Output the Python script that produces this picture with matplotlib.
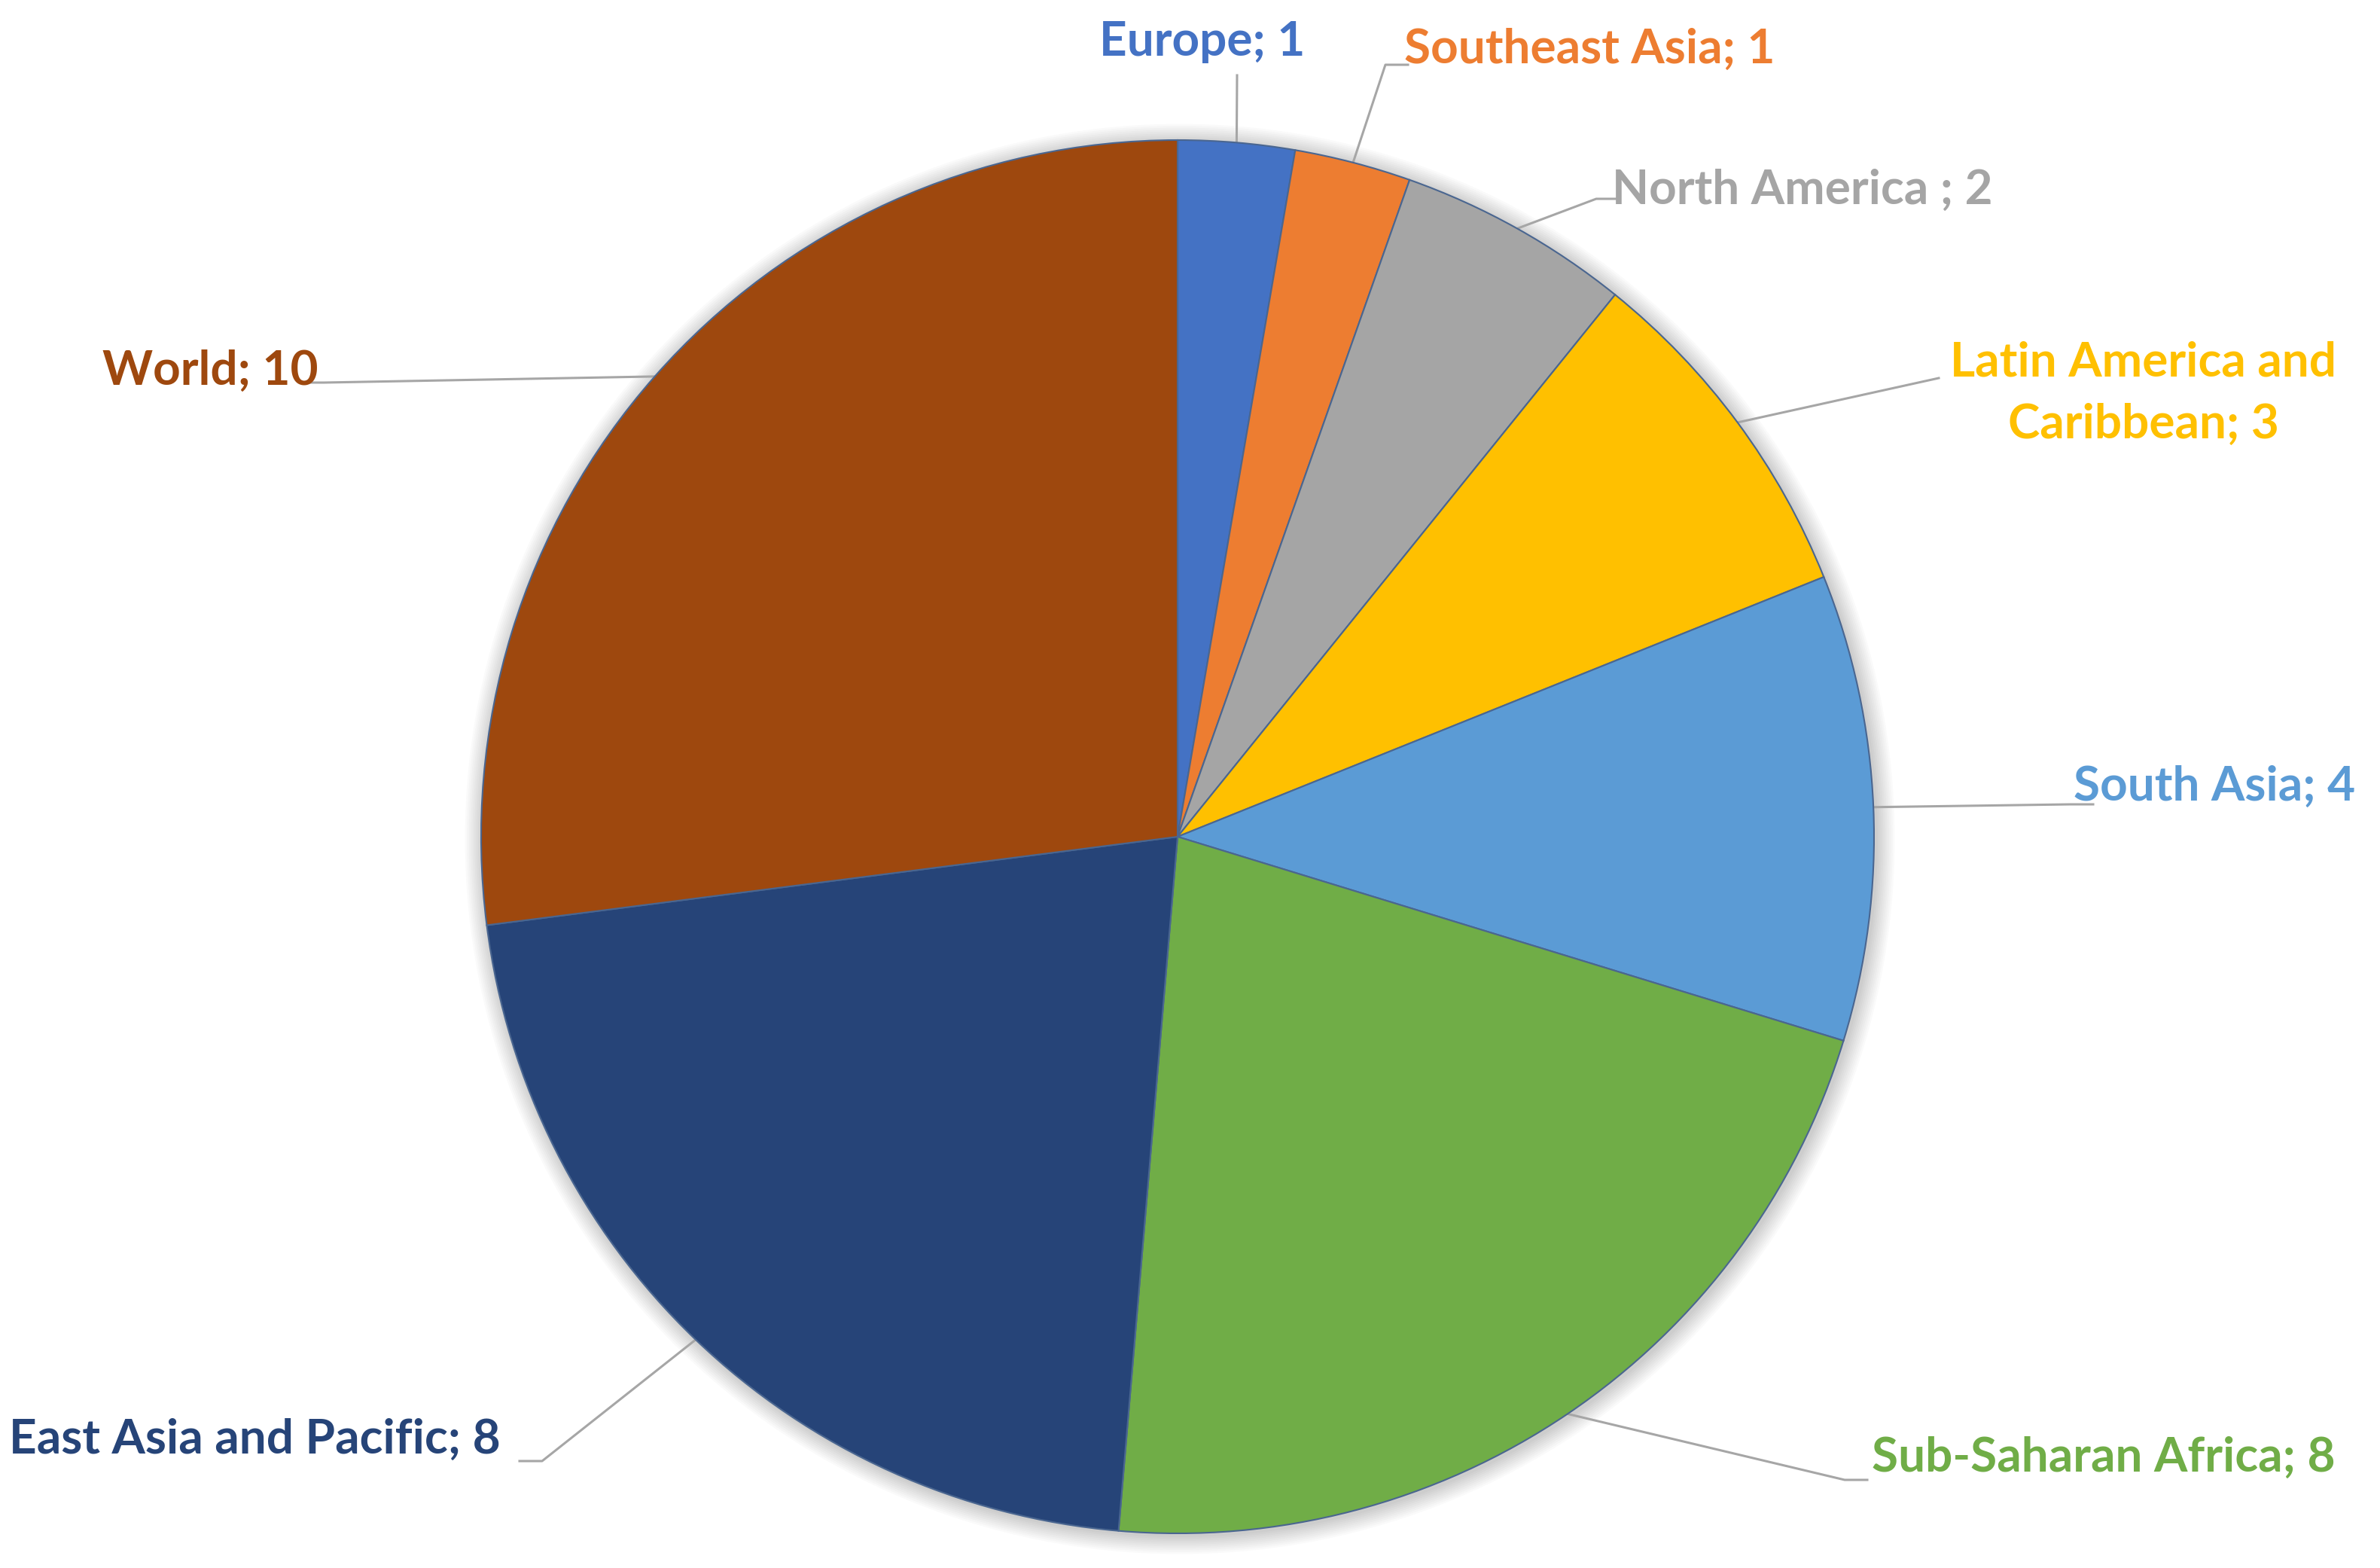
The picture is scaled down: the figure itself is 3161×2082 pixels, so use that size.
import numpy as np
import matplotlib
matplotlib.use("Agg")
import matplotlib.pyplot as plt
from matplotlib.patches import Circle

# data
regions = ["Europe", "Southeast Asia", "North America ", "Latin America and\nCaribbean",
           "South Asia", "Sub-Saharan Africa", "East Asia and Pacific", "World"]
counts = [1, 1, 2, 3, 4, 8, 8, 10]
colors = ["#4472C4", "#ED7D31", "#A5A5A5", "#FFC000",
          "#5B9BD5", "#70AD47", "#264478", "#9E480E"]

W, H = 3161, 2082
fig = plt.figure(figsize=(W / 100, H / 100), dpi=100)
ax = fig.add_axes([0, 0, 1, 1])

cx, cy, r = 1564, H - 1111, 925

# soft shadow around the pie
for i in range(10):
    ax.add_patch(Circle((cx + 3, cy - 3), r + 2 + i * 2.5, color="k",
                        alpha=0.018, lw=0, zorder=0))

wedges, _ = ax.pie(counts, colors=colors, startangle=90, counterclock=False,
                   center=(cx, cy), radius=r, frame=True,
                   wedgeprops=dict(edgecolor="#4a6690", linewidth=1.5, zorder=2))
ax.set_xlim(0, W)
ax.set_ylim(0, H)
ax.set_aspect("equal")
ax.axis("off")

# label layout: (text x, text y, ha, elbow point), y measured from top
layout = [
    (1597, 56, "center", (1643, 100)),
    (1865, 65, "left", (1840, 86)),
    (2141, 252, "left", (2120, 264)),
    (2847, 522, "center", (2575, 502)),
    (2754, 1044, "left", (2750, 1068)),
    (2486, 1935, "left", (2450, 1965)),
    (665, 1911, "right", (720, 1940)),
    (423, 492, "right", (430, 508)),
]
for w, name, val, col, (tx, ty, ha, elbow) in zip(wedges, regions, counts, colors, layout):
    mid = np.deg2rad((w.theta1 + w.theta2) / 2)
    px, py = cx + r * np.cos(mid), cy + r * np.sin(mid)
    ex, ey = elbow
    ey = H - ey
    if ha == "left":
        end = (ex + 30, ey)
    elif ha == "right":
        end = (ex - 30, ey)
    else:
        end = (ex, ey)
    ax.plot([px, ex, end[0]], [py, ey, end[1]], color="#A6A6A6", lw=2.2, zorder=1)
    ax.text(tx, H - ty, f"{name}; {val}", color=col, ha=ha, va="center",
            fontsize=46, fontweight="bold", family="Lato", linespacing=1.55)

fig.savefig("out.png", dpi=100)
